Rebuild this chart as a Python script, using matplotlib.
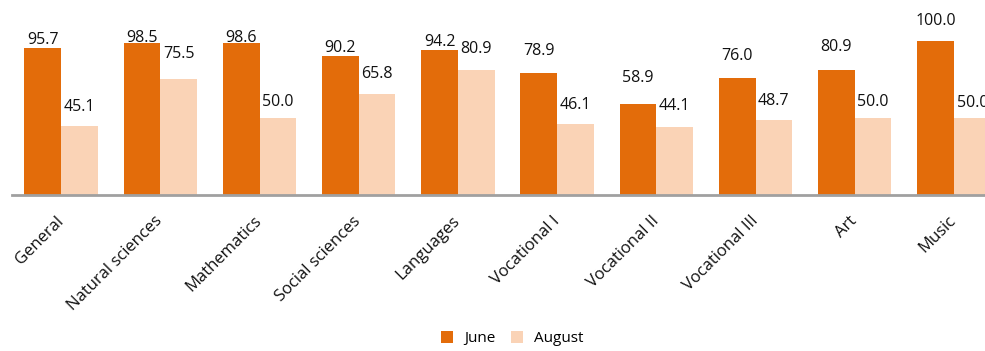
import matplotlib
matplotlib.use("Agg")
import matplotlib.pyplot as plt
import numpy as np

categories = ["General", "Natural sciences", "Mathematics", "Social sciences", "Languages",
              "Vocational I", "Vocational II", "Vocational III", "Art", "Music"]
june = [95.7, 98.5, 98.6, 90.2, 94.2, 78.9, 58.9, 76.0, 80.9, 100.0]
august = [45.1, 75.5, 50.0, 65.8, 80.9, 46.1, 44.1, 48.7, 50.0, 50.0]

# label offsets (pixels above bar top, to label centre) - styling
june_off = [8, 5, 5, 8, 8, 22, 26, 22, 23, 20]
aug_off = [19, 25, 16, 20, 21, 19, 21, 19, 16, 15]

c_june = "#E36C0A"
c_aug = "#FAD3B6"

fig = plt.figure(figsize=(9.85, 3.51), dpi=100)
ax = fig.add_axes([11.5 / 985, 156 / 351, 992 / 985, 169.4 / 351])

x = np.arange(len(categories))
w = 0.37
b1 = ax.bar(x - w / 2, june, w, color=c_june, label="June", zorder=2)
b2 = ax.bar(x + w / 2, august, w, color=c_aug, label="August", zorder=2)

ax.set_xlim(-0.5, len(categories) - 0.5)
ax.set_ylim(0, 110)

for bars, vals, offs in ((b1, june, june_off), (b2, august, aug_off)):
    for r, v, o in zip(bars, vals, offs):
        ax.annotate(f"{v:.1f}", (r.get_x() + r.get_width() / 2, v),
                    xytext=(0, o), textcoords="offset pixels",
                    ha="center", va="center", fontsize=11.5, family="Open Sans",
                    color="#111111", annotation_clip=False, clip_on=False)

for s in ("top", "right", "left"):
    ax.spines[s].set_visible(False)
ax.spines["bottom"].set_color("#A0A0A0")
ax.spines["bottom"].set_linewidth(2)
ax.set_yticks([])
ax.set_xticks(x)
ax.set_xticklabels(categories, rotation=45, ha="right", va="center",
                   rotation_mode="anchor", fontsize=12, family="Open Sans", color="#111111")
ax.tick_params(axis="x", length=0, pad=17)

fig.legend(handles=[b1, b2], labels=["June", "August"], loc="lower center",
           bbox_to_anchor=(0.52, -0.025), ncol=2, frameon=False,
           prop={"family": "Open Sans", "size": 11},
           handlelength=0.8, handleheight=0.8, handletextpad=0.7, columnspacing=1.0)

fig.savefig("out.png", dpi=100)
